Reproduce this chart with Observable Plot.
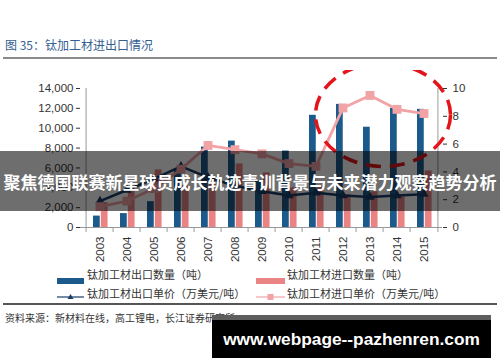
<!DOCTYPE html>
<html><head><meta charset="utf-8">
<script src="https://cdn.jsdelivr.net/npm/d3@7"></script>
<script src="https://cdn.jsdelivr.net/npm/@observablehq/plot@0.6"></script>
<style>
body{margin:0;width:500px;height:362px;overflow:hidden;background:#fff;position:relative;font-family:"Liberation Sans","Noto Sans CJK SC",sans-serif;}
#title{position:absolute;left:5px;top:37px;font-size:12px;color:#33608f;font-family:"Noto Sans CJK SC",sans-serif;line-height:16px;white-space:nowrap}
.hr{position:absolute;left:3px;width:494px;}
#chart{position:absolute;left:0;top:70px;}
.leg{position:absolute;font-size:11px;color:#333;font-family:"Noto Sans CJK SC",sans-serif;white-space:nowrap;line-height:14px}
.sw{position:absolute}
#source{position:absolute;left:5px;top:311px;font-size:10px;color:#333;font-family:"Noto Sans CJK SC",sans-serif;white-space:nowrap;line-height:14px}
#banner{position:absolute;left:0;top:151px;width:500px;height:60px;background:rgba(0,0,0,0.57);color:#fff;font-weight:bold;font-size:17px;font-family:"Noto Sans CJK SC",sans-serif;text-align:center;line-height:62px;white-space:nowrap;letter-spacing:0px}
#wm{position:absolute;left:212px;top:315px;width:279px;height:38px;background:#000;border-top:5px solid #5e5e5e;color:#fff;font-weight:bold;font-size:17.3px;font-family:"Liberation Sans",sans-serif;text-align:center;line-height:38px;white-space:nowrap}
</style></head><body>
<div id="title">图 35：钛加工材进出口情况</div>
<div class="hr" style="top:57px;height:2px;background:#8a8a8a"></div>
<div id="chart"></div>
<div id="legend"></div>
<div class="hr" style="top:303px;height:1.5px;background:#555"></div>
<div id="source">资料来源：新材料在线，高工锂电，长江证券研究所</div>
<div id="banner">聚焦德国联赛新星球员成长轨迹青训背景与未来潜力观察趋势分析</div>
<div id="wm">www.webpage--pazhenren.com</div>
<script>
const years = ["2003","2004","2005","2006","2007","2008","2009","2010","2011","2012","2013","2014","2015"];
const exportQty = [1150, 1400, 2600, 5800, 8100, 8700, 4700, 7700, 11300, 12400, 10100, 12000, 11900];
const importQty = [2500, 3700, 5800, 4200, 4500, 6400, 5500, 4000, 4200, 3300, 3600, 3100, 5700];
const exportPrice = [1.9, 2.7, 3.5, 4.4, 3.6, 3.0, 2.6, 2.3, 2.5, 2.3, 2.2, 2.3, 2.4];
const importPrice = [1.5, 1.9, 2.8, 4.2, 5.9, 5.6, 5.3, 4.6, 4.4, 8.6, 9.5, 8.5, 8.2];
const leftTicks = [0, 2000, 4000, 6000, 8000, 10000, 12000, 14000];
const rightTicks = [0, 2, 4, 6, 8, 10];
const legendLabels = ["钛加工材出口数量（吨）","钛加工材进口数量（吨）","钛加工材出口单价（万美元/吨）","钛加工材进口单价（万美元/吨）"];

const C_EX = "#1c5a8c", C_IM = "#e98384", C_EP = "#1a3f68", C_IP = "#f2a3a6";
const W = 500, H = 200, mL = 80, mR = 58, mT = 18, mB = 43;
const bw = (W - mL - mR) / years.length;
const K = 14000 / 10;
const rows = years.map((y, i) => ({year: y, ex: exportQty[i], im: importQty[i], ep: exportPrice[i] * K, ip: importPrice[i] * K}));

function ellipseMark(index, scales, values, dimensions) {
  const sx = scales.x, sy = scales.y;
  const b = typeof sx.bandwidth === "function" ? sx.bandwidth() : sx.bandwidth;
  const cx = (sx("2013") + sx("2014")) / 2 + b / 2;
  const cy = sy(11300);
  const ry = sy(0) - sy(5200);
  const rx = b * 2.5;
  const e = document.createElementNS("http://www.w3.org/2000/svg", "ellipse");
  e.setAttribute("cx", cx); e.setAttribute("cy", cy);
  e.setAttribute("rx", rx); e.setAttribute("ry", ry);
  e.setAttribute("fill", "none"); e.setAttribute("stroke", "#e3151a");
  e.setAttribute("stroke-width", 3.5); e.setAttribute("stroke-dasharray", "15 9");
  const g = document.createElementNS("http://www.w3.org/2000/svg", "g");
  g.appendChild(e);
  return g;
}

const chart = Plot.plot({
  width: W, height: H, marginLeft: mL, marginRight: mR, marginTop: mT, marginBottom: mB,
  x: {type: "band", domain: years, padding: 0},
  y: {domain: [0, 14000]},
  style: {fontFamily: "Liberation Sans, Arial, sans-serif", fontSize: "11px", color: "#333", background: "transparent"},
  marks: [
    Plot.barY(rows, {x: "year", y: "ex", fill: C_EX, insetLeft: 7, insetRight: bw - 14.6}),
    Plot.barY(rows, {x: "year", y: "im", fill: C_IM, insetLeft: 14.8, insetRight: bw - 22.4}),
    Plot.ruleY([0], {stroke: "#999"}),
    Plot.ruleX([years[0]], {x: d => d, dx: -bw / 2, y1: 0, y2: 14000, stroke: "#999"}),
    Plot.ruleX([years[years.length - 1]], {x: d => d, dx: bw / 2, y1: 0, y2: 14000, stroke: "#999"}),
    Plot.ruleX(years, {x: d => d, dx: -bw / 2, y1: 0, y2: -500, stroke: "#999"}),
    Plot.ruleX([years[years.length - 1]], {x: d => d, dx: bw / 2, y1: 0, y2: -500, stroke: "#999"}),
    Plot.line(rows, {x: "year", y: "ep", stroke: C_EP, strokeWidth: 2.5}),
    Plot.dot(rows, {x: "year", y: "ep", symbol: "triangle", r: 3.5, fill: C_EP}),
    Plot.line(rows, {x: "year", y: "ip", stroke: C_IP, strokeWidth: 2.8}),
    Plot.dot(rows, {x: "year", y: "ip", symbol: "square", r: 5, fill: C_IP}),
    Plot.axisY({anchor: "left", ticks: leftTicks, tickFormat: d3.format(","), tickSize: 4, tickPadding: 3, label: null, fontSize: 11.5}),
    Plot.axisY({anchor: "right", ticks: rightTicks.map(v => v * K), tickFormat: d => d3.format("d")(d / K), tickSize: 4, tickPadding: 6, label: null, fontSize: 11.5}),
    Plot.axisX({anchor: "bottom", tickSize: 0, tickRotate: -90, tickPadding: 9, label: null, fontSize: 11.5}),
    ellipseMark
  ]
});
document.getElementById("chart").appendChild(chart);

// legend
const leg = document.getElementById("legend");
function sw(html, left, top, w, h) {
  const d = document.createElement("div");
  d.className = "sw"; d.style.left = left + "px"; d.style.top = top + "px";
  d.innerHTML = `<svg width="${w}" height="${h}">${html}</svg>`;
  leg.appendChild(d);
}
function txt(s, left, top) {
  const d = document.createElement("div");
  d.className = "leg"; d.textContent = s; d.style.left = left + "px"; d.style.top = top + "px";
  leg.appendChild(d);
}
sw(`<rect x="0" y="0" width="27" height="6" fill="${C_EX}"/>`, 57, 270, 27, 6);
txt(legendLabels[0], 87, 267);
sw(`<rect x="0" y="0" width="29" height="6" fill="${C_IM}"/>`, 256, 270, 29, 6);
txt(legendLabels[1], 287, 267);
sw(`<line x1="0" y1="5" x2="27" y2="5" stroke="${C_EP}" stroke-width="1.2"/><path d="M13.5,2 L16.5,7 L10.5,7 Z" fill="${C_EP}"/>`, 57, 288, 27, 10);
txt(legendLabels[2], 87, 286);
sw(`<line x1="0" y1="5" x2="29" y2="5" stroke="${C_IP}" stroke-width="1.2"/><rect x="11.5" y="2" width="6" height="6" fill="${C_IP}"/>`, 256, 288, 29, 10);
txt(legendLabels[3], 287, 286);
</script>
</body></html>
